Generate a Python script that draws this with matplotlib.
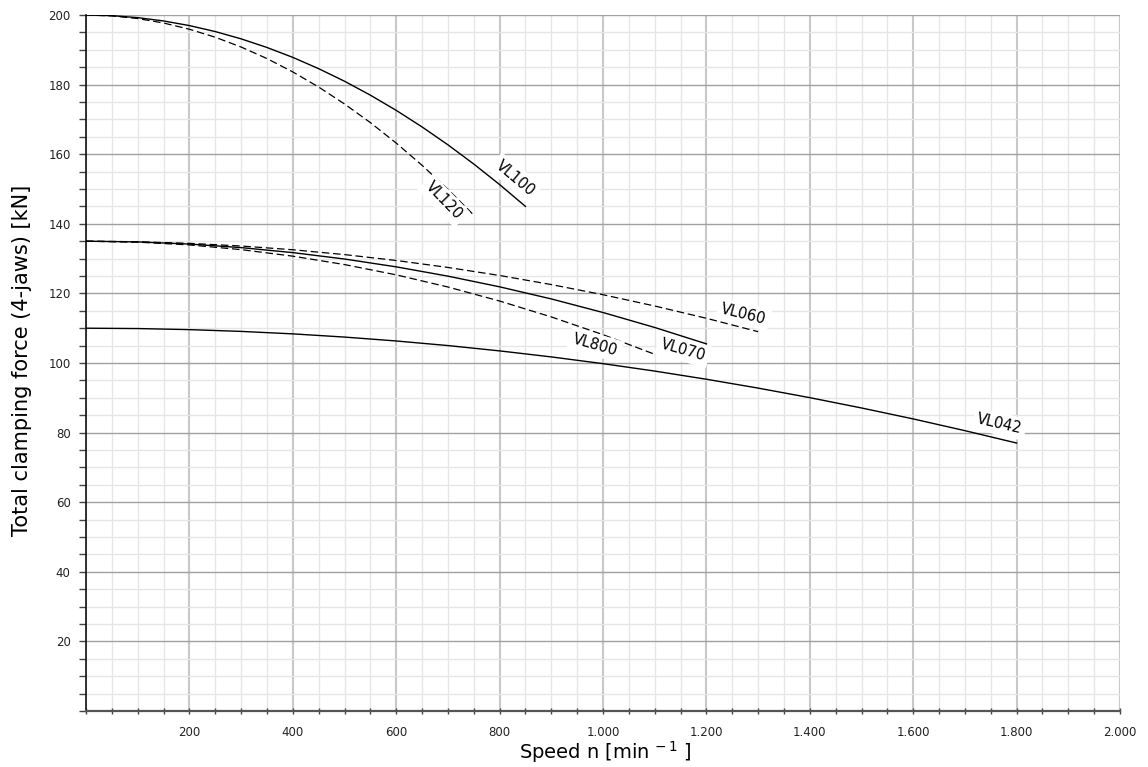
import matplotlib
matplotlib.use("Agg")
import matplotlib.pyplot as plt
from matplotlib.ticker import MultipleLocator, FuncFormatter

# ---- data ----
n_vl100 = [0, 50, 100, 150, 200, 250, 300, 350, 400, 450, 500, 550, 600, 650, 700, 750, 800, 850]
f_vl100 = [200, 199.81, 199.24, 198.29, 196.96, 195.24, 193.15, 190.67, 187.82, 184.58,
           180.97, 176.97, 172.60, 167.84, 162.70, 157.18, 151.28, 145.0]

n_vl120 = [0, 50, 100, 150, 200, 250, 300, 350, 400, 450, 500, 550, 600, 650, 700, 750]
f_vl120 = [200, 199.74, 198.98, 197.7, 195.91, 193.61, 190.8, 187.48, 183.64, 179.3,
           174.44, 169.08, 163.2, 156.81, 149.91, 142.5]

n_vl060 = [0, 100, 200, 300, 400, 500, 600, 700, 800, 900, 1000, 1100, 1200, 1300]
f_vl060 = [135, 134.85, 134.38, 133.62, 132.54, 131.15, 129.46, 127.46, 125.15, 122.54,
           119.62, 116.38, 112.85, 109.0]

n_vl070 = [0, 100, 200, 300, 400, 500, 600, 700, 800, 900, 1000, 1100, 1200]
f_vl070 = [135, 134.80, 134.18, 133.16, 131.72, 129.88, 127.63, 124.96, 121.89, 118.41,
           114.51, 110.21, 105.5]

n_vl800 = [0, 100, 200, 300, 400, 500, 600, 700, 800, 900, 1000, 1100]
f_vl800 = [135, 134.73, 133.93, 132.58, 130.70, 128.29, 125.33, 121.84, 117.81, 113.24,
           108.14, 102.5]

n_vl042 = [0, 100, 200, 300, 400, 500, 600, 700, 800, 900, 1000, 1100, 1200, 1300, 1400,
           1500, 1600, 1700, 1800]
f_vl042 = [110, 109.90, 109.59, 109.08, 108.37, 107.45, 106.33, 105.01, 103.48, 101.75,
           99.81, 97.68, 95.33, 92.79, 90.04, 87.08, 83.93, 80.56, 77.0]

series = [
    ("VL100", n_vl100, f_vl100, "solid"),
    ("VL120", n_vl120, f_vl120, "dashed"),
    ("VL060", n_vl060, f_vl060, "dashed"),
    ("VL070", n_vl070, f_vl070, "solid"),
    ("VL800", n_vl800, f_vl800, "dashed"),
    ("VL042", n_vl042, f_vl042, "solid"),
]

# label placement (data coords) and rotation
label_pos = {
    "VL100": (830, 153.2, -40),
    "VL120": (692, 146.6, -46),
    "VL060": (1272, 114.1, -14),
    "VL070": (1155, 103.7, -16),
    "VL800": (985, 105.2, -16),
    "VL042": (1767, 82.5, -13),
}

x_label = "Speed n [min$^{\\,-1}$ ]"
y_label = "Total clamping force (4-jaws) [kN]"

# ---- figure ----
fig = plt.figure(figsize=(11.48, 7.67), dpi=100)
ax = fig.add_axes([86 / 1148, 56 / 767, 1034 / 1148, 696 / 767])

ax.set_xlim(0, 2000)
ax.set_ylim(0, 200)

ax.xaxis.set_major_locator(MultipleLocator(200))
ax.xaxis.set_minor_locator(MultipleLocator(50))
ax.yaxis.set_major_locator(MultipleLocator(20))
ax.yaxis.set_minor_locator(MultipleLocator(5))

ax.grid(which="minor", color="#e6e6e6", linewidth=1.0, zorder=0)
ax.grid(which="major", axis="y", color="#a0a0a0", linewidth=1.0, zorder=0)
ax.grid(which="major", axis="x", color="#c8c8c8", linewidth=1.5, zorder=0)
ax.set_axisbelow(True)

def xfmt(v, pos):
    if v <= 0:
        return ""
    return f"{int(round(v)):,}".replace(",", ".")

def yfmt(v, pos):
    if v <= 0:
        return ""
    return f"{int(round(v))}"

ax.xaxis.set_major_formatter(FuncFormatter(xfmt))
ax.yaxis.set_major_formatter(FuncFormatter(yfmt))

ax.tick_params(axis="x", which="both", direction="inout", length=5, width=1,
               color="#444444", labelsize=8.5, pad=8, labelcolor="#222222")
ax.tick_params(axis="y", which="both", direction="out", length=5, width=1,
               color="#444444", labelsize=8.5, pad=6, labelcolor="#222222")

for s in ("top", "right"):
    ax.spines[s].set_visible(False)
ax.spines["left"].set_color("#111111")
ax.spines["left"].set_linewidth(1.2)
ax.spines["bottom"].set_color("#555555")
ax.spines["bottom"].set_linewidth(1.6)

for name, n, f, ls in series:
    if ls == "dashed":
        ax.plot(n, f, color="black", linewidth=0.9, linestyle=(0, (6, 3)), zorder=3)
    else:
        ax.plot(n, f, color="black", linewidth=1.0, linestyle="-", zorder=3)
    lx, ly, rot = label_pos[name]
    ax.text(lx, ly, name, rotation=rot, rotation_mode="anchor",
            ha="center", va="center", fontsize=10.5, color="black", zorder=5,
            bbox=dict(boxstyle="square,pad=0.25", facecolor="white", edgecolor="none"))

fig.text(605 / 1148, 1 - 752 / 767, x_label, ha="center", va="center", fontsize=14)
fig.text(22 / 1148, 1 - 360 / 767, y_label, ha="center", va="center", fontsize=15,
         rotation=90)

fig.savefig("out.png", dpi=100)
